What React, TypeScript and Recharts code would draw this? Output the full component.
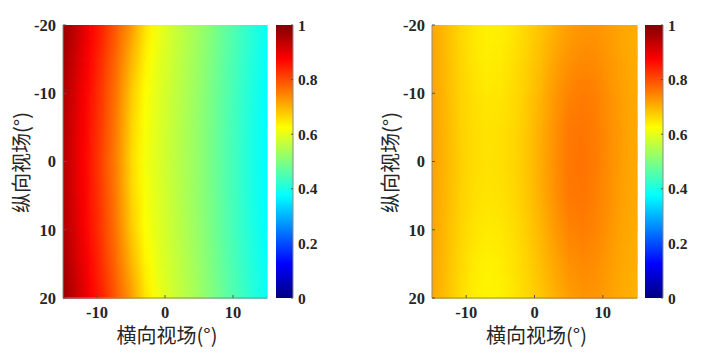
import React from 'react';
import { ComposedChart, XAxis, YAxis, ReferenceArea, Label } from 'recharts';

// grid nodes (degrees)
const xCols = [-15, -13, -11, -9, -7, -5, -3, -1, 1, 3, 5, 7, 9, 11, 13, 15];
const yRows = [-20, -15, -10, -5, 0, 5, 10, 15, 20];

const xTicks = [-10, 0, 10];
const yTicks = [-20, -10, 0, 10, 20];
const barTicks = [0, 0.2, 0.4, 0.6, 0.8, 1];

// left map, one row per yRows entry
const leftGrid = [
  [0.975, 0.93, 0.88, 0.835, 0.78, 0.725, 0.655, 0.61, 0.58, 0.555, 0.53, 0.5, 0.468, 0.44, 0.41, 0.385],
  [0.965, 0.915, 0.87, 0.82, 0.765, 0.7, 0.64, 0.6, 0.575, 0.55, 0.525, 0.495, 0.463, 0.435, 0.405, 0.38],
  [0.955, 0.905, 0.86, 0.81, 0.752, 0.68, 0.625, 0.595, 0.57, 0.546, 0.52, 0.49, 0.458, 0.43, 0.4, 0.377],
  [0.95, 0.9, 0.855, 0.805, 0.746, 0.67, 0.62, 0.592, 0.567, 0.544, 0.518, 0.488, 0.456, 0.428, 0.398, 0.375],
  [0.95, 0.898, 0.852, 0.8, 0.742, 0.665, 0.615, 0.59, 0.565, 0.543, 0.517, 0.487, 0.455, 0.427, 0.397, 0.375],
  [0.95, 0.9, 0.855, 0.805, 0.746, 0.67, 0.62, 0.592, 0.567, 0.544, 0.518, 0.488, 0.456, 0.428, 0.398, 0.375],
  [0.955, 0.905, 0.86, 0.81, 0.752, 0.68, 0.625, 0.595, 0.57, 0.546, 0.52, 0.49, 0.458, 0.43, 0.4, 0.377],
  [0.965, 0.915, 0.87, 0.82, 0.765, 0.7, 0.64, 0.6, 0.575, 0.55, 0.525, 0.495, 0.463, 0.435, 0.405, 0.38],
  [0.975, 0.93, 0.88, 0.835, 0.78, 0.725, 0.655, 0.61, 0.58, 0.555, 0.53, 0.5, 0.468, 0.44, 0.41, 0.385],
];

// right map
const rightGrid = [
  [0.712, 0.69, 0.665, 0.648, 0.638, 0.64, 0.65, 0.667, 0.684, 0.702, 0.718, 0.728, 0.728, 0.72, 0.71, 0.703],
  [0.714, 0.692, 0.668, 0.65, 0.642, 0.645, 0.656, 0.672, 0.692, 0.714, 0.732, 0.74, 0.738, 0.726, 0.714, 0.705],
  [0.714, 0.694, 0.67, 0.655, 0.648, 0.65, 0.66, 0.677, 0.7, 0.726, 0.747, 0.754, 0.748, 0.732, 0.717, 0.708],
  [0.715, 0.696, 0.672, 0.658, 0.652, 0.655, 0.664, 0.681, 0.706, 0.733, 0.755, 0.76, 0.752, 0.735, 0.718, 0.709],
  [0.716, 0.697, 0.673, 0.66, 0.653, 0.656, 0.666, 0.683, 0.708, 0.736, 0.758, 0.762, 0.753, 0.735, 0.718, 0.709],
  [0.715, 0.695, 0.672, 0.657, 0.65, 0.654, 0.664, 0.681, 0.706, 0.734, 0.756, 0.76, 0.75, 0.733, 0.716, 0.708],
  [0.714, 0.692, 0.668, 0.652, 0.645, 0.648, 0.658, 0.675, 0.698, 0.724, 0.746, 0.752, 0.745, 0.728, 0.713, 0.706],
  [0.712, 0.69, 0.664, 0.646, 0.638, 0.642, 0.653, 0.669, 0.69, 0.712, 0.732, 0.74, 0.736, 0.722, 0.709, 0.703],
  [0.71, 0.688, 0.66, 0.642, 0.634, 0.638, 0.649, 0.664, 0.682, 0.702, 0.72, 0.73, 0.728, 0.716, 0.706, 0.7],
];

const clamp = (n: number) => Math.max(0, Math.min(1, n));
const jet = (v: number) => {
  const r = clamp(Math.min(4 * v - 1.5, -4 * v + 4.5));
  const g = clamp(Math.min(4 * v - 0.5, -4 * v + 3.5));
  const b = clamp(Math.min(4 * v + 0.5, -4 * v + 2.5));
  return `rgb(${Math.round(r * 255)},${Math.round(g * 255)},${Math.round(b * 255)})`;
};

const tickStyle = { fontFamily: '"Liberation Serif", serif', fontSize: 16.5, fontWeight: 700, fill: '#262626' };
const barTickStyle = { ...tickStyle, fontSize: 15.5 };
const cjkFont = '"Noto Sans CJK SC", sans-serif';
const frame = { stroke: '#8a8a8a' };
const tickLn = { stroke: '#555' };
const noTick = () => <g />;

// grid nodes as chart data so the axes have something to scale
const nodes = yRows.flatMap((y) => xCols.map((x) => ({ x, y })));

const Heatmap = ({ id, grid, left, width }: { id: string; grid: number[][]; left: number; width: number }) => {
  const cells: { i: number; j: number }[] = [];
  for (let j = 0; j < yRows.length - 1; j++) {
    for (let i = 0; i < xCols.length - 1; i++) cells.push({ i, j });
  }
  return (
    <div style={{ position: 'absolute', left, top: 0 }}>
      <ComposedChart data={nodes} width={width} height={356} margin={{ top: 25, right: 13, bottom: 0, left: 0 }}>
        <defs>
          {grid.map((row, j) =>
            row.slice(0, -1).map((v, i) => (
              <linearGradient key={`${j}-${i}`} id={`${id}-h-${j}-${i}`} x1="0" y1="0" x2="1" y2="0">
                <stop offset="0" stopColor={jet(v)} />
                <stop offset="0.5" stopColor={jet((v + row[i + 1]) / 2)} />
                <stop offset="1" stopColor={jet(row[i + 1])} />
              </linearGradient>
            ))
          )}
          <linearGradient id={`${id}-fade`} x1="0" y1="0" x2="0" y2="1">
            <stop offset="0" stopColor="#000" />
            <stop offset="1" stopColor="#fff" />
          </linearGradient>
          <mask id={`${id}-mask`} maskContentUnits="objectBoundingBox">
            <rect x="0" y="0" width="1" height="1" fill={`url(#${id}-fade)`} />
          </mask>
        </defs>
        {cells.map(({ i, j }) => (
          <ReferenceArea
            key={`c-${j}-${i}`}
            xAxisId="b"
            yAxisId="l"
            x1={xCols[i]}
            x2={xCols[i + 1]}
            y1={yRows[j]}
            y2={yRows[j + 1]}
            ifOverflow="visible"
            shape={(p: any) => (
              <g>
                <rect x={p.x} y={p.y} width={p.width + 0.6} height={p.height + 0.6} fill={`url(#${id}-h-${j}-${i})`} />
                <rect
                  x={p.x}
                  y={p.y}
                  width={p.width + 0.6}
                  height={p.height + 0.6}
                  fill={`url(#${id}-h-${j + 1}-${i})`}
                  mask={`url(#${id}-mask)`}
                />
              </g>
            )}
          />
        ))}
        <XAxis
          xAxisId="b"
          dataKey="x"
          type="number"
          domain={[-15, 15]}
          allowDataOverflow
          ticks={xTicks}
          height={58}
          axisLine={frame}
          tickLine={tickLn}
          tickSize={-3}
          tickMargin={11}
          tick={tickStyle}
        >
          <Label
            content={({ viewBox }: any) => (
              <text
                x={viewBox.x + viewBox.width / 2 + 2}
                y={viewBox.y + 45}
                textAnchor="middle"
                fontFamily={cjkFont}
                fontSize={20}
                fill="#262626"
              >
                横向视场(°)
              </text>
            )}
          />
        </XAxis>
        <XAxis xAxisId="t" dataKey="x" orientation="top" type="number" domain={[-15, 15]} allowDataOverflow ticks={xTicks} height={0} axisLine={frame} tickLine={tickLn} tickSize={-3} tick={noTick} />
        <YAxis
          yAxisId="l"
          dataKey="y"
          type="number"
          domain={[-20, 20]}
          allowDataOverflow
          reversed
          ticks={yTicks}
          width={63}
          axisLine={frame}
          tickLine={tickLn}
          tickSize={-3}
          tickMargin={10}
          tick={tickStyle}
        >
          <Label
            content={({ viewBox }: any) => {
              const cx = viewBox.x + viewBox.width - 43;
              const cy = viewBox.y + viewBox.height / 2 + 1;
              return (
                <text
                  x={cx}
                  y={cy}
                  transform={`rotate(-90 ${cx} ${cy})`}
                  textAnchor="middle"
                  dominantBaseline="central"
                  fontFamily={cjkFont}
                  fontSize={20}
                  fill="#262626"
                >
                  纵向视场(°)
                </text>
              );
            }}
          />
        </YAxis>
        <YAxis yAxisId="r" dataKey="y" orientation="right" type="number" domain={[-20, 20]} allowDataOverflow reversed ticks={yTicks} width={0} axisLine={frame} tickLine={tickLn} tickSize={-3} tick={noTick} />
      </ComposedChart>
    </div>
  );
};

const jetStops = [1, 0.875, 0.625, 0.375, 0.125, 0];
const barData = barTicks.map((t) => ({ c: 0.5, t }));

const ColorBar = ({ id, left, width }: { id: string; left: number; width: number }) => (
  <div style={{ position: 'absolute', left, top: 0 }}>
    <ComposedChart data={barData} width={width + 40} height={356} margin={{ top: 25, right: 0, bottom: 58, left: 0 }}>
      <defs>
        <linearGradient id={`${id}-jet`} x1="0" y1="0" x2="0" y2="1">
          {jetStops.map((v) => (
            <stop key={v} offset={1 - v} stopColor={jet(v)} />
          ))}
        </linearGradient>
      </defs>
      <ReferenceArea xAxisId="cb" yAxisId="cr" x1={0} x2={1} y1={0} y2={1} fill={`url(#${id}-jet)`} fillOpacity={1} ifOverflow="visible" />
      <XAxis xAxisId="cb" dataKey="c" orientation="bottom" type="number" domain={[0, 1]} allowDataOverflow height={0} axisLine={frame} tickLine={false} tick={false} />
      <XAxis xAxisId="ct" dataKey="c" orientation="top" type="number" domain={[0, 1]} allowDataOverflow height={0} axisLine={frame} tickLine={false} tick={false} />
      <YAxis yAxisId="cl" dataKey="t" orientation="left" type="number" domain={[0, 1]} allowDataOverflow ticks={barTicks} width={0} axisLine={frame} tickLine={tickLn} tickSize={-2} tick={noTick} />
      <YAxis
        yAxisId="cr"
        dataKey="t"
        orientation="right"
        type="number"
        domain={[0, 1]}
        allowDataOverflow
        ticks={barTicks}
        width={40}
        axisLine={frame}
        tickLine={tickLn}
        tickSize={-2}
        tickMargin={7}
        tick={barTickStyle}
        tickFormatter={(v: number) => String(v)}
      />
    </ComposedChart>
  </div>
);

const App = () => (
  <div style={{ position: 'absolute', left: 0, top: 0, width: 710, height: 356, background: '#fff' }}>
    <Heatmap id="lh" grid={leftGrid} left={0} width={280} />
    <ColorBar id="lc" left={276} width={17} />
    <Heatmap id="rh" grid={rightGrid} left={369} width={281} />
    <ColorBar id="rc" left={645} width={18} />
  </div>
);

export default App;
